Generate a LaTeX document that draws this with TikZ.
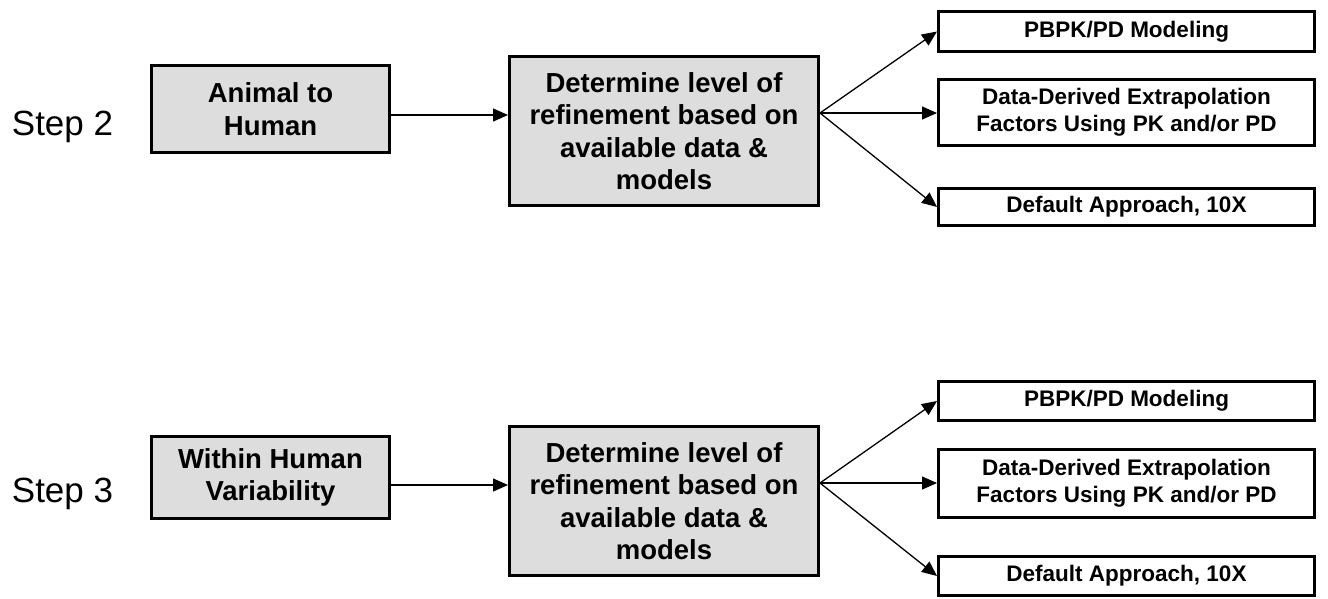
\documentclass[tikz,border=0pt]{standalone}
\usepackage{fontspec}
\setmainfont{Liberation Sans}
\usetikzlibrary{arrows.meta}
\definecolor{boxgray}{HTML}{DDDDDD}
\begin{document}
\begin{tikzpicture}[x=1pt,y=-1pt,
  graybox/.style={draw=black,line width=3pt,fill=boxgray,inner sep=0pt,align=center,
    font=\fontsize{27.5}{32.5}\selectfont\bfseries},
  whitebox/.style={draw=black,line width=3pt,fill=white,inner sep=0pt,align=center,
    minimum width=376pt,font=\fontsize{22.5}{27}\selectfont\bfseries},
  steplabel/.style={anchor=base,inner sep=0pt,font=\fontsize{35}{40}\selectfont},
  arr/.style={line width=1.3pt,-{Triangle[length=15pt,width=13pt]}}]
\useasboundingbox (0,0) rectangle (1328,598);
% Step 2
\node[steplabel] (s2) at (62.5,135) {Step 2};
\node[graybox,minimum width=238pt,minimum height=87pt] (anim) at (270.5,109) {Animal to\\Human};
\node[graybox,minimum width=309pt,minimum height=149pt] (mid) at (664,131)
  {Determine level of\\refinement based on\\available data \&\\models};
\node[whitebox,minimum height=40pt] (pb) at (1126.5,31.5) {PBPK/PD Modeling};
\node[whitebox,minimum height=66pt] (dd) at (1126.5,112.5) {Data-Derived Extrapolation\\Factors Using PK and/or PD};
\node[whitebox,minimum height=37pt] (df) at (1126.5,207) {Default Approach, 10X};
\draw[arr] ([yshift=-6pt]anim.east) -- ([yshift=-6pt]anim.east -| mid.west);
\coordinate (f) at ([yshift=18pt]mid.east);
\draw[arr] (f) -- (pb.west);
\draw[arr] (f) -- (f -| dd.west);
\draw[arr] (f) -- (df.west);
% Step 3
\node[steplabel] (s3) at (62.5,502) {Step 3};
\node[graybox,minimum width=238pt,minimum height=82pt] (within) at (270.5,477.5) {Within Human\\Variability};
\node[graybox,minimum width=309pt,minimum height=149pt] (mid2) at (664,501)
  {Determine level of\\refinement based on\\available data \&\\models};
\node[whitebox,minimum height=39pt] (pb2) at (1126.5,401) {PBPK/PD Modeling};
\node[whitebox,minimum height=68pt] (dd2) at (1126.5,483.5) {Data-Derived Extrapolation\\Factors Using PK and/or PD};
\node[whitebox,minimum height=39pt] (df2) at (1126.5,576) {Default Approach, 10X};
\draw[arr] ([yshift=-7.5pt]within.east) -- ([yshift=-7.5pt]within.east -| mid2.west);
\coordinate (f2) at ([yshift=18pt]mid2.east);
\draw[arr] (f2) -- (pb2.west);
\draw[arr] (f2) -- (f2 -| dd2.west);
\draw[arr] (f2) -- (df2.west);
\end{tikzpicture}
\end{document}
